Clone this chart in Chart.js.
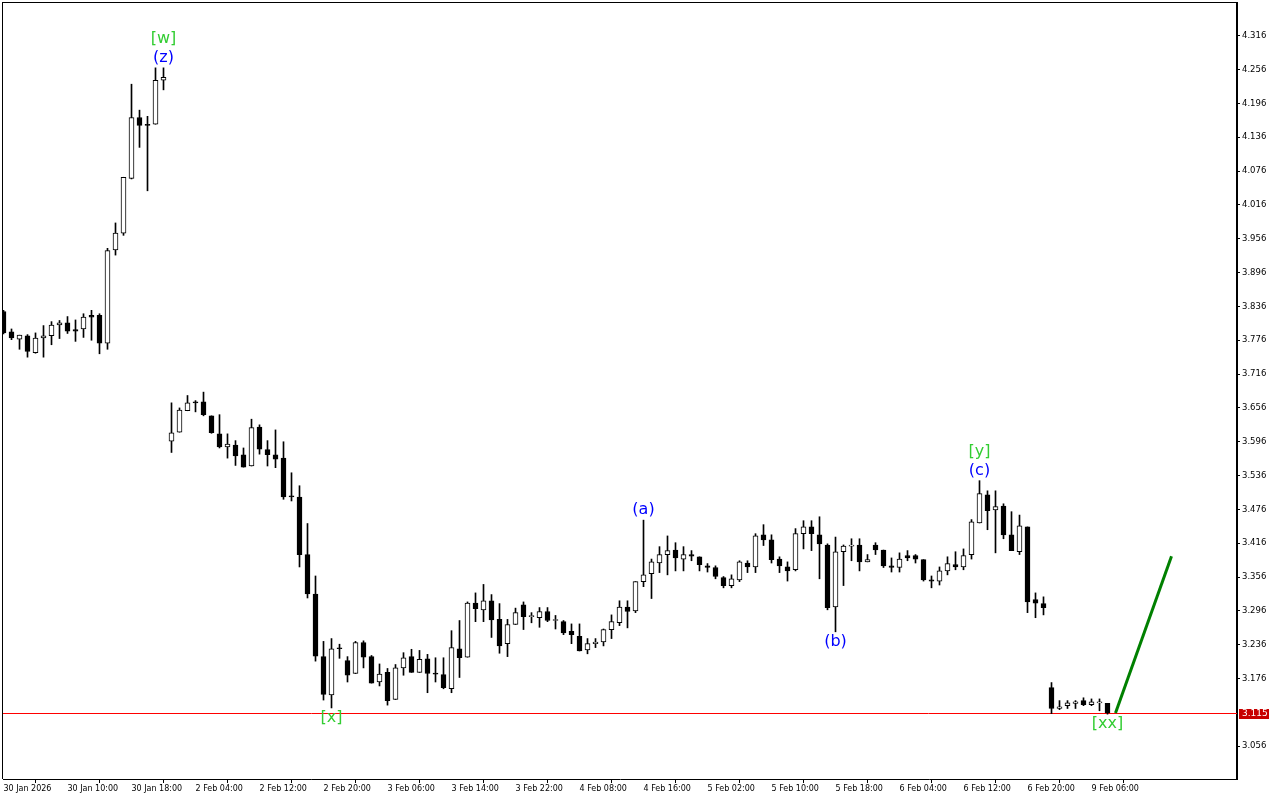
<!DOCTYPE html>
<html>
<head>
<meta charset="utf-8">
<title>H1 chart - wave count</title>
<script src="https://cdn.jsdelivr.net/npm/chart.js@4.4.1/dist/chart.umd.min.js"></script>
<style>
  html, body { margin: 0; padding: 0; background: #fff; }
  #wrap { width: 1280px; height: 800px; position: relative; }
</style>
</head>
<body>
<div id="wrap"><canvas id="chart"></canvas></div>
<script>
// hourly candles (bar index = position on the time axis)
const opens = [
  3.827, 3.791, 3.778, 3.784, 3.754, 3.780, 3.784, 3.803, 3.807, 3.795,
  3.796, 3.820, 3.820, 3.771, 3.936, 3.966, 4.063, 4.171, 4.158, 4.159,
  4.237, 3.597, 3.613, 3.651, 3.667, 3.667, 3.642, 3.610, 3.587, 3.590,
  3.573, 3.553, 3.622, 3.582, 3.573, 3.567, 3.500, 3.498, 3.396, 3.326,
  3.215, 3.147, 3.230, 3.208, 3.185, 3.240, 3.215, 3.170, 3.187, 3.139,
  3.195, 3.215, 3.187, 3.211, 3.185, 3.183, 3.158, 3.229, 3.214, 3.310,
  3.298, 3.314, 3.281, 3.238, 3.272, 3.307, 3.286, 3.284, 3.295, 3.279,
  3.277, 3.260, 3.251, 3.227, 3.238, 3.241, 3.263, 3.275, 3.303, 3.296,
  3.348, 3.362, 3.381, 3.396, 3.404, 3.388, 3.396, 3.392, 3.376, 3.373,
  3.355, 3.341, 3.351, 3.381, 3.374, 3.431, 3.422, 3.388, 3.374, 3.369,
  3.433, 3.445, 3.431, 3.413, 3.303, 3.401, 3.411, 3.413, 3.383, 3.413,
  3.404, 3.376, 3.373, 3.394, 3.394, 3.387, 3.351, 3.349, 3.367, 3.378,
  3.374, 3.396, 3.452, 3.502, 3.475, 3.482, 3.431, 3.401, 3.445, 3.316,
  3.309, 3.160, 3.123, 3.128, 3.132, 3.137, 3.130, 3.133, 3.132
];
const highs = [
  3.829, 3.796, 3.785, 3.786, 3.789, 3.802, 3.809, 3.811, 3.818, 3.812,
  3.823, 3.829, 3.823, 3.939, 3.984, 4.065, 4.230, 4.184, 4.173, 4.259,
  4.259, 3.665, 3.656, 3.678, 3.669, 3.684, 3.642, 3.644, 3.610, 3.598,
  3.585, 3.636, 3.626, 3.598, 3.617, 3.596, 3.541, 3.518, 3.451, 3.358,
  3.242, 3.247, 3.237, 3.215, 3.242, 3.243, 3.217, 3.202, 3.194, 3.201,
  3.222, 3.228, 3.226, 3.219, 3.213, 3.213, 3.261, 3.279, 3.312, 3.328,
  3.343, 3.325, 3.309, 3.281, 3.301, 3.312, 3.293, 3.302, 3.302, 3.288,
  3.279, 3.273, 3.273, 3.247, 3.247, 3.264, 3.289, 3.314, 3.314, 3.348,
  3.457, 3.388, 3.410, 3.429, 3.417, 3.410, 3.403, 3.392, 3.380, 3.376,
  3.357, 3.360, 3.385, 3.385, 3.433, 3.449, 3.431, 3.392, 3.383, 3.442,
  3.456, 3.456, 3.463, 3.415, 3.427, 3.413, 3.424, 3.424, 3.396, 3.417,
  3.404, 3.390, 3.399, 3.403, 3.396, 3.387, 3.358, 3.374, 3.392, 3.401,
  3.406, 3.458, 3.527, 3.509, 3.509, 3.486, 3.472, 3.466, 3.445, 3.328,
  3.321, 3.169, 3.137, 3.137, 3.137, 3.142, 3.140, 3.140, 3.132
];
const lows = [
  3.787, 3.777, 3.760, 3.746, 3.753, 3.746, 3.768, 3.779, 3.788, 3.774,
  3.781, 3.776, 3.752, 3.760, 3.927, 3.962, 4.062, 4.118, 4.041, 4.159,
  4.220, 3.577, 3.613, 3.651, 3.649, 3.642, 3.611, 3.585, 3.567, 3.554,
  3.551, 3.553, 3.574, 3.553, 3.550, 3.494, 3.491, 3.374, 3.319, 3.207,
  3.138, 3.124, 3.212, 3.170, 3.185, 3.195, 3.168, 3.163, 3.129, 3.139,
  3.182, 3.187, 3.187, 3.151, 3.170, 3.158, 3.151, 3.178, 3.214, 3.277,
  3.277, 3.249, 3.221, 3.215, 3.272, 3.263, 3.275, 3.267, 3.277, 3.264,
  3.254, 3.238, 3.225, 3.220, 3.231, 3.234, 3.247, 3.270, 3.266, 3.293,
  3.339, 3.318, 3.364, 3.360, 3.367, 3.367, 3.385, 3.367, 3.365, 3.353,
  3.337, 3.337, 3.348, 3.364, 3.364, 3.412, 3.381, 3.364, 3.349, 3.367,
  3.406, 3.403, 3.353, 3.298, 3.259, 3.341, 3.385, 3.367, 3.383, 3.396,
  3.373, 3.365, 3.365, 3.385, 3.381, 3.349, 3.337, 3.342, 3.360, 3.369,
  3.369, 3.388, 3.452, 3.440, 3.399, 3.424, 3.403, 3.396, 3.293, 3.284,
  3.289, 3.114, 3.121, 3.123, 3.123, 3.128, 3.128, 3.119, 3.113
];
const closes = [
  3.789, 3.780, 3.785, 3.756, 3.780, 3.784, 3.803, 3.807, 3.792, 3.792,
  3.817, 3.817, 3.771, 3.935, 3.966, 4.065, 4.171, 4.157, 4.157, 4.237,
  4.242, 3.612, 3.652, 3.665, 3.665, 3.644, 3.612, 3.587, 3.592, 3.571,
  3.551, 3.621, 3.583, 3.573, 3.565, 3.498, 3.498, 3.396, 3.326, 3.216,
  3.148, 3.229, 3.229, 3.182, 3.240, 3.214, 3.168, 3.184, 3.137, 3.195,
  3.213, 3.187, 3.210, 3.185, 3.184, 3.160, 3.231, 3.213, 3.310, 3.300,
  3.314, 3.280, 3.234, 3.272, 3.293, 3.286, 3.286, 3.295, 3.279, 3.279,
  3.257, 3.254, 3.225, 3.238, 3.241, 3.263, 3.277, 3.303, 3.295, 3.348,
  3.360, 3.383, 3.396, 3.403, 3.390, 3.396, 3.393, 3.378, 3.373, 3.357,
  3.341, 3.353, 3.383, 3.374, 3.429, 3.422, 3.387, 3.376, 3.367, 3.433,
  3.445, 3.433, 3.415, 3.302, 3.401, 3.411, 3.411, 3.383, 3.387, 3.404,
  3.376, 3.373, 3.388, 3.390, 3.388, 3.351, 3.349, 3.367, 3.380, 3.374,
  3.394, 3.454, 3.504, 3.474, 3.481, 3.431, 3.403, 3.447, 3.312, 3.310,
  3.302, 3.123, 3.126, 3.133, 3.135, 3.130, 3.135, 3.133, 3.115
];

// time axis: one label every 8 bars
const timeTicks = [0, 8, 16, 24, 32, 40, 48, 56, 64, 72, 80, 88, 96, 104, 112, 120, 128, 136];
const timeLabels = [
  '30 Jan 2026', '30 Jan 10:00', '30 Jan 18:00', '2 Feb 04:00', '2 Feb 12:00', '2 Feb 20:00',
  '3 Feb 06:00', '3 Feb 14:00', '3 Feb 22:00', '4 Feb 08:00', '4 Feb 16:00', '5 Feb 02:00',
  '5 Feb 10:00', '5 Feb 18:00', '6 Feb 04:00', '6 Feb 12:00', '6 Feb 20:00', '9 Feb 06:00'
];

// price axis labels
const priceTicks = [
  4.316, 4.256, 4.196, 4.136, 4.076, 4.016, 3.956, 3.896, 3.836, 3.776, 3.716,
  3.656, 3.596, 3.536, 3.476, 3.416, 3.356, 3.296, 3.236, 3.176, 3.056
];
const lastPrice = 3.115;

// wave count marks (nearest label to the bar first)
const waveText = ['(z)', '[w]', '[x]', '(a)', '(b)', '(c)', '[y]', '[xx]'];
const waveBar = [20, 20, 41, 80, 104, 122, 122, 138];
const waveSide = ['high', 'high', 'low', 'high', 'low', 'high', 'high', 'low'];

// projected leg after [xx]
const projBars = [139, 146];
const projPrices = [3.115, 3.393];

const X_MIN = -0.0625;
const X_MAX = 154.1875;
const Y_MIN = 2.998;
const Y_MAX = 4.374;

const bars = opens.map((o, i) => i);
const bodyColors = bars.map(i => closes[i] >= opens[i] ? '#ffffff' : '#000000');

function noPadding(s) {
    s.paddingTop = 0;
    s.paddingBottom = 0;
    s.paddingLeft = 0;
    s.paddingRight = 0;
}

const framePlugin = {
    id: 'frame',
    beforeDatasetsDraw(chart) {
        // bid line, kept crisp on a whole pixel row
        const { ctx, chartArea: a, scales } = chart;
        const py = Math.round(scales.y.getPixelForValue(lastPrice)) + 0.5;
        ctx.save();
        ctx.strokeStyle = '#ff0000';
        ctx.lineWidth = 1;
        ctx.beginPath();
        ctx.moveTo(a.left, py);
        ctx.lineTo(a.right, py);
        ctx.stroke();
        ctx.restore();
    },
    afterDraw(chart) {
        const { ctx, chartArea: a, scales } = chart;
        ctx.save();
        ctx.fillStyle = '#000';
        ctx.fillRect(a.left - 1, a.top - 1, a.right - a.left + 1, 1);
        ctx.fillRect(a.left - 1, a.top - 1, 1, a.bottom - a.top + 1);

        // wave labels
        ctx.font = '16px "DejaVu Sans"';
        ctx.textAlign = 'center';
        ctx.textBaseline = 'middle';
        const stacked = {};
        waveText.forEach((t, k) => {
            const i = waveBar[k];
            const side = waveSide[k];
            const key = i + side;
            const n = stacked[key] || 0;
            stacked[key] = n + 1;
            const x = scales.x.getPixelForValue(i);
            const base = scales.y.getPixelForValue(side === 'high' ? highs[i] : lows[i]);
            const y = side === 'high' ? base - 10 - n * 19 : base + 10 + n * 19;
            ctx.fillStyle = t[0] === '[' ? '#32cd32' : '#0000ff';
            ctx.fillText(t, x, y);
        });

        // bid price box on the price axis
        const py = Math.round(scales.y.getPixelForValue(lastPrice));
        ctx.fillStyle = '#c80000';
        ctx.fillRect(a.right + 2, py - 4, 30, 10);
        ctx.fillStyle = '#fff';
        ctx.font = '9px "DejaVu Sans"';
        ctx.textAlign = 'left';
        ctx.fillText(lastPrice.toFixed(3), a.right + 5, py + 1);
        ctx.restore();
    }
};

new Chart(document.getElementById('chart'), {
    type: 'bar',
    data: {
        datasets: [
            {
                type: 'line',
                data: projBars.map((b, k) => ({ x: b, y: projPrices[k] })),
                borderColor: '#008000',
                borderWidth: 3,
                pointRadius: 0,
                order: 0
            },
            {
                data: bars.map(i => ({ x: i, y: [opens[i], closes[i]] })),
                backgroundColor: bodyColors,
                borderColor: '#000',
                borderWidth: 1,
                borderSkipped: false,
                barThickness: 5,
                minBarLength: 1,
                grouped: false,
                order: 1
            },
            {
                data: bars.map(i => ({ x: i, y: [lows[i], highs[i]] })),
                backgroundColor: '#000',
                borderWidth: 0,
                barThickness: 1,
                grouped: false,
                order: 2
            }
        ]
    },
    options: {
        responsive: true,
        maintainAspectRatio: false,
        animation: false,
        events: [],
        layout: { padding: { top: 3, left: 3, right: 0, bottom: 0 } },
        plugins: { legend: { display: false }, tooltip: { enabled: false } },
        scales: {
            x: {
                type: 'linear',
                min: X_MIN,
                max: X_MAX,
                offset: false,
                afterBuildTicks: s => { s.ticks = timeTicks.map(v => ({ value: v })); },
                afterFit: s => { s.height = 21; noPadding(s); },
                grid: { display: true, drawOnChartArea: false, drawTicks: true, tickLength: 4, color: '#000' },
                border: { display: true, color: '#000', width: 1 },
                ticks: {
                    autoSkip: false,
                    maxRotation: 0,
                    align: 'start',
                    padding: 1,
                    color: '#000',
                    font: { family: 'DejaVu Sans', size: 8 },
                    callback: (v, idx) => timeLabels[idx]
                }
            },
            y: {
                type: 'linear',
                position: 'right',
                min: Y_MIN,
                max: Y_MAX,
                afterBuildTicks: s => { s.ticks = priceTicks.map(v => ({ value: v })); },
                afterFit: s => { s.width = 43; noPadding(s); },
                grid: { display: true, drawOnChartArea: false, drawTicks: true, tickLength: 3, color: '#000' },
                border: { display: true, color: '#000', width: 2 },
                ticks: {
                    padding: 2,
                    color: '#000',
                    font: { family: 'DejaVu Sans', size: 8.5 },
                    callback: v => v.toFixed(3)
                }
            }
        }
    },
    plugins: [framePlugin]
});
</script>
</body>
</html>
